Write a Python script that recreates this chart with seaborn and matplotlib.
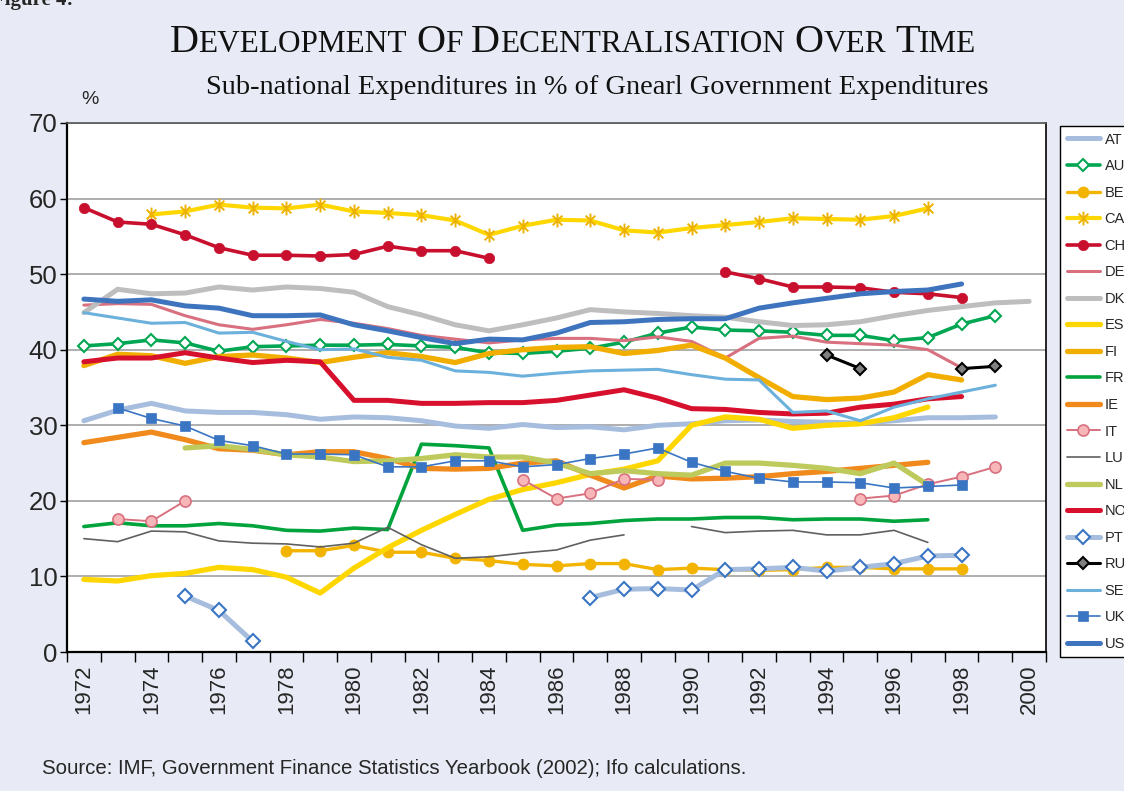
import matplotlib
matplotlib.use("Agg")
import matplotlib.pyplot as plt
from matplotlib.lines import Line2D
from matplotlib.path import Path
from matplotlib import font_manager
import pandas as pd
import seaborn as sns

N = None
years = list(range(1972, 2001))

# sub-national expenditure shares (%), 1972..2000, None = no data
AT = [30.6, 32.0, 32.9, 31.9, 31.7, 31.7, 31.4, 30.8, 31.1, 31.0, 30.6, 29.9, 29.6, 30.1, 29.7,
      29.8, 29.4, 30.0, 30.2, 30.6, 30.7, 30.5, 30.4, 30.3, 30.6, 31.0, 31.0, 31.1, N]
AU = [40.5, 40.8, 41.3, 40.9, 39.8, 40.4, 40.5, 40.6, 40.6, 40.7, 40.5, 40.3, 39.6, 39.5, 39.8,
      40.2, 41.0, 42.2, 43.0, 42.6, 42.5, 42.3, 41.9, 41.9, 41.2, 41.6, 43.4, 44.5, N]
BE = [N, N, N, N, N, N, 13.4, 13.4, 14.1, 13.2, 13.2, 12.4, 12.1, 11.6, 11.4, 11.7, 11.7, 10.9,
      11.1, 10.9, 10.8, 10.9, 11.2, 11.2, 11.0, 11.0, 11.0, N, N]
CA = [N, N, 57.9, 58.3, 59.2, 58.8, 58.7, 59.2, 58.3, 58.1, 57.8, 57.1, 55.2, 56.4, 57.2, 57.1,
      55.8, 55.5, 56.1, 56.5, 56.9, 57.4, 57.3, 57.2, 57.7, 58.7, N, N, N]
CH = [58.8, 56.9, 56.6, 55.2, 53.5, 52.5, 52.5, 52.4, 52.6, 53.7, 53.1, 53.1, 52.1, N, N, N, N,
      N, N, 50.3, 49.4, 48.3, 48.3, 48.2, 47.6, 47.4, 46.9, N, N]
DE = [45.9, 46.1, 46.0, 44.5, 43.3, 42.7, 43.3, 44.0, 43.5, 42.8, 41.9, 41.4, 40.9, 41.3, 41.5,
      41.5, 41.2, 41.7, 41.1, 38.9, 41.5, 41.8, 41.0, 40.8, 40.6, 40.0, 37.6, N, N]
DK = [44.9, 48.0, 47.4, 47.5, 48.3, 47.9, 48.3, 48.1, 47.6, 45.7, 44.6, 43.3, 42.5, 43.3, 44.2,
      45.3, 45.0, 44.8, 44.5, 44.3, 43.7, 43.2, 43.3, 43.7, 44.5, 45.2, 45.7, 46.2, 46.4]
ES = [9.6, 9.4, 10.1, 10.4, 11.2, 10.9, 9.9, 7.8, 11.1, 13.8, 16.1, 18.2, 20.2, 21.5, 22.4, 23.5,
      24.2, 25.3, 30.0, 31.1, 30.8, 29.6, 30.0, 30.2, 31.0, 32.4, N, N, N]
FI = [37.9, 39.4, 39.2, 38.2, 39.1, 39.3, 38.9, 38.3, 39.0, 39.6, 39.1, 38.3, 39.5, 40.0, 40.3,
      40.4, 39.5, 39.9, 40.6, 38.9, 36.3, 33.8, 33.4, 33.6, 34.4, 36.7, 36.0, N, N]
FR = [16.6, 17.1, 16.7, 16.7, 17.0, 16.7, 16.1, 16.0, 16.4, 16.2, 27.5, 27.3, 27.0, 16.1, 16.8,
      17.0, 17.4, 17.6, 17.6, 17.8, 17.8, 17.5, 17.6, 17.6, 17.3, 17.5, N, N, N]
IE = [27.7, 28.4, 29.1, 28.1, 26.9, 26.7, 26.1, 26.5, 26.5, 25.6, 24.3, 24.2, 24.3, 25.0, 25.3,
      23.4, 21.7, 23.3, 22.9, 23.0, 23.2, 23.6, 23.9, 24.3, 24.7, 25.1, N, N, N]
IT = [N, 17.6, 17.3, 20.0, N, N, N, N, N, N, N, N, N, 22.8, 20.3, 21.0, 22.9, 22.8, N, N, N, N,
      N, 20.3, 20.7, 22.2, 23.2, 24.5, N]
LU = [15.0, 14.6, 16.0, 15.9, 14.7, 14.4, 14.3, 13.9, 14.4, 16.5, 14.2, 12.4, 12.6, 13.1, 13.5,
      14.8, 15.5, N, 16.6, 15.8, 16.0, 16.1, 15.5, 15.5, 16.1, 14.5, N, N, N]
NL = [N, N, N, 27.0, 27.3, 26.8, 26.1, 25.8, 25.2, 25.3, 25.6, 26.1, 25.8, 25.8, 25.0, 23.6,
      24.0, 23.6, 23.4, 25.0, 25.0, 24.7, 24.3, 23.6, 25.0, 22.1, N, N, N]
NO = [38.4, 38.9, 38.9, 39.6, 38.9, 38.3, 38.6, 38.4, 33.3, 33.3, 32.9, 32.9, 33.0, 33.0, 33.3,
      34.0, 34.7, 33.6, 32.2, 32.1, 31.7, 31.5, 31.6, 32.4, 32.8, 33.5, 33.8, N, N]
PT = [N, N, N, 7.4, 5.5, 1.4, N, N, N, N, N, N, N, N, N, 7.2, 8.3, 8.4, 8.2, 10.9, 11.0, 11.2,
      10.7, 11.2, 11.7, 12.7, 12.8, N, N]
RU = [N] * 22 + [39.3, 37.5, N, N, 37.5, 37.8, N]
SE = [44.9, 44.2, 43.5, 43.6, 42.2, 42.3, 41.1, 40.0, 40.1, 39.0, 38.6, 37.2, 37.0, 36.5, 36.9,
      37.2, 37.3, 37.4, 36.7, 36.1, 36.0, 31.7, 31.9, 30.6, 32.4, 33.5, 34.4, 35.3, N]
UK = [N, 32.3, 30.9, 29.9, 28.0, 27.3, 26.2, 26.2, 26.1, 24.5, 24.5, 25.3, 25.3, 24.5, 24.8,
      25.6, 26.2, 27.0, 25.1, 23.9, 23.0, 22.5, 22.5, 22.4, 21.7, 21.9, 22.1, N, N]
US = [46.7, 46.4, 46.6, 45.8, 45.5, 44.5, 44.5, 44.6, 43.3, 42.5, 41.6, 40.8, 41.4, 41.3, 42.2,
      43.6, 43.7, 44.0, 44.1, 44.1, 45.5, 46.2, 46.8, 47.4, 47.7, 47.9, 48.7, N, N]

countries = ["AT", "AU", "BE", "CA", "CH", "DE", "DK", "ES", "FI", "FR",
             "IE", "IT", "LU", "NL", "NO", "PT", "RU", "SE", "UK", "US"]
series = dict(AT=AT, AU=AU, BE=BE, CA=CA, CH=CH, DE=DE, DK=DK, ES=ES, FI=FI, FR=FR,
              IE=IE, IT=IT, LU=LU, NL=NL, NO=NO, PT=PT, RU=RU, SE=SE, UK=UK, US=US)

# excel-like star marker: vertical bar plus an x
star = Path([(0, -1), (0, 1), (-0.7, -0.7), (0.7, 0.7), (-0.7, 0.7), (0.7, -0.7)],
            [Path.MOVETO, Path.LINETO, Path.MOVETO, Path.LINETO, Path.MOVETO, Path.LINETO])


def mk(marker, size, face, edge, ew=1.5):
    return dict(marker=marker, markersize=size, markerfacecolor=face,
                markeredgecolor=edge, markeredgewidth=ew)


styles = {
    "AT": dict(color="#A6BDDE", linewidth=3.6),
    "AU": dict(color="#00A651", linewidth=2.6, **mk("D", 6.5, "white", "#00A651")),
    "BE": dict(color="#F2B400", linewidth=2.4, **mk("o", 8, "#F2B400", "#F2B400", 0.5)),
    "CA": dict(color="#FFD700", linewidth=3.0, **mk(star, 10, "none", "#EDB200", 1.4)),
    "CH": dict(color="#C8102E", linewidth=2.6, **mk("o", 7.5, "#C8102E", "#C8102E", 0.5)),
    "DE": dict(color="#D8707F", linewidth=2.2),
    "DK": dict(color="#BEBEBE", linewidth=3.6),
    "ES": dict(color="#FFD700", linewidth=3.8),
    "FI": dict(color="#F2AE00", linewidth=3.8),
    "FR": dict(color="#00A33C", linewidth=2.6),
    "IE": dict(color="#F08A1C", linewidth=3.8),
    "IT": dict(color="#D8707F", linewidth=1.4, **mk("o", 8, "#F7B6B8", "#D8707F", 1.2)),
    "LU": dict(color="#606060", linewidth=1.2),
    "NL": dict(color="#BECB5C", linewidth=3.8),
    "NO": dict(color="#D7102D", linewidth=3.6),
    "PT": dict(color="#A6BDDE", linewidth=3.6, **mk("D", 7, "white", "#3A75C4")),
    "RU": dict(color="black", linewidth=2.2, **mk("D", 6.5, "#808080", "black")),
    "SE": dict(color="#6CB0DC", linewidth=2.2),
    "UK": dict(color="#3A75C4", linewidth=1.2, **mk("s", 6.5, "#3A75C4", "#3A75C4", 0.5)),
    "US": dict(color="#3E74BE", linewidth=3.6),
}


def segments(vals):
    seg = []
    for yr, v in zip(years, vals):
        if v is None:
            if seg:
                yield seg
            seg = []
        else:
            seg.append((yr, v))
    if seg:
        yield seg


sns.set_theme(style="white")
plt.rcParams["font.family"] = ["Liberation Sans", "DejaVu Sans"]
bg = "#E8EBF5"

fig = plt.figure(figsize=(11.24, 7.91), dpi=100, facecolor=bg)
ax = fig.add_axes([67 / 1124, 1 - 652 / 791, (1046 - 67) / 1124, (652 - 123) / 791])
ax.set_facecolor("white")

for c in countries:
    for seg in segments(series[c]):
        df = pd.DataFrame(seg, columns=["year", "value"])
        sns.lineplot(data=df, x="year", y="value", ax=ax, legend=False, **styles[c])

ax.set_xlim(1971.5, 2000.5)
ax.set_ylim(0, 70)
ax.set_yticks(range(0, 71, 10))
ax.set_xticks(range(1972, 2001, 2))
ax.set_xticklabels([str(y) for y in range(1972, 2001, 2)], rotation=90, fontsize=16)
ax.set_xticks([y + 0.5 for y in range(1971, 2001)], minor=True)
ax.tick_params(axis="x", which="major", length=0, pad=9)
ax.tick_params(axis="x", which="minor", length=7, width=1, color="black", direction="out", bottom=True)
ax.tick_params(axis="y", length=5, width=1, color="black", direction="out", left=True, labelsize=18.5, pad=2)
ax.set_xlabel("")
ax.set_ylabel("")
ax.grid(axis="y", color="#A8A8A8", linewidth=1.3)
ax.grid(axis="x", visible=False)
ax.set_axisbelow(True)
for side in ["left", "bottom"]:
    ax.spines[side].set_color("black")
    ax.spines[side].set_linewidth(1.6)
ax.spines["top"].set_color("#555555")
ax.spines["top"].set_linewidth(1.2)
ax.spines["right"].set_color("black")
ax.spines["right"].set_linewidth(1.2)

# legend, partly cut off on the right like the original
handles = [Line2D([], [], **styles[c]) for c in countries]
leg = fig.legend(handles, countries, loc="upper left", bbox_to_anchor=(1060 / 1124, 1 - 126 / 791),
                 frameon=True, fancybox=False, edgecolor="black", facecolor="white", framealpha=1,
                 fontsize=10.5, handlelength=2.3, handletextpad=0.3, labelspacing=0.86,
                 borderpad=0.45, borderaxespad=0)
leg.get_frame().set_linewidth(1.0)

# small-caps title
serif = "Liberation Serif"
parts = [("D", 29), ("EVELOPMENT", 22.5), (" ", 0), ("O", 29), ("F", 22.5), (" ", 0),
         ("D", 29), ("ECENTRALISATION", 22.5), (" ", 0), ("O", 29), ("VER", 22.5), (" ", 0),
         ("T", 29), ("IME", 22.5)]
renderer = fig.canvas.get_renderer()
title_y = 1 - 52 / 791
items = []
for s, size in parts:
    if s == " ":
        items.append((None, 9))
        continue
    t = fig.text(0, title_y, s, fontsize=size, family=serif, va="baseline", ha="left", color="#111111")
    items.append((t, t.get_window_extent(renderer).width))
total = sum(w for _, w in items)
x = 573 - total / 2
for t, w in items:
    if t is not None:
        t.set_x(x / 1124)
    x += w

fig.text(597 / 1124, 1 - 87 / 791, "Sub-national Expenditures in % of Gnearl Government Expenditures",
         fontsize=20.4, family=serif, ha="center", va="center", color="#111111")
fig.text(90 / 1124, 1 - 100 / 791, "%", fontsize=14, ha="center", va="center")
fig.text(-8 / 1124, 1 - 5 / 791, "Figure 4:", fontsize=15, family=serif, weight="bold",
         ha="left", va="baseline")

names = {f.name for f in font_manager.fontManager.ttflist}
if "Liberation Sans Narrow" in names:
    src_font, src_size = "Liberation Sans Narrow", 15.5
else:
    src_font, src_size = "Liberation Sans", 14.7
fig.text(42 / 1124, 1 - 769 / 791,
         "Source: IMF, Government Finance Statistics Yearbook (2002); Ifo calculations.",
         fontsize=src_size, family=src_font, ha="left", va="center")

fig.savefig("out.png", dpi=100, facecolor=bg)
